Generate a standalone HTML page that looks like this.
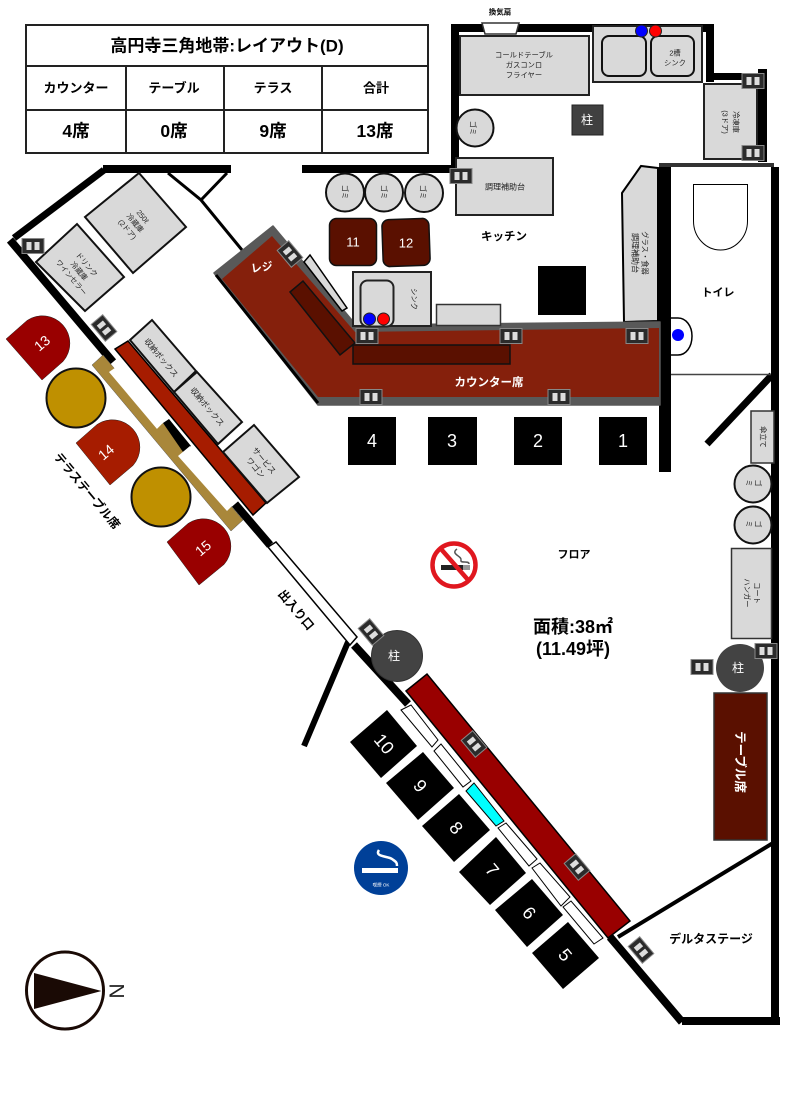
<!DOCTYPE html>
<html lang="ja">
<head>
<meta charset="utf-8">
<style>
html,body{margin:0;padding:0;background:#fff;width:793px;height:1095px;overflow:hidden}
svg{display:block}
text{font-family:"Liberation Sans","Noto Sans CJK JP",sans-serif;text-anchor:middle;dominant-baseline:central}
.b{font-weight:bold}
.s{font-size:8px;fill:#222}
.c{font-size:7.3px;fill:#222}
.g{fill:#d9d9d9;stroke:#222;stroke-width:2}
.w{fill:#fff;stroke:#000;stroke-width:1}
.k{fill:#000}
.n{fill:#fff;font-size:18px}
.t{fill:#d9d9d9;stroke:#111;stroke-width:2}
</style>
</head>
<body>
<svg width="793" height="1095" viewBox="0 0 793 1095" xmlns="http://www.w3.org/2000/svg">
<defs>
<g id="o"><rect x="-11" y="-7.500" width="22" height="15" fill="#2b2b2b" stroke="#888" stroke-width="1"/><rect x="-6.500" y="-4" width="5" height="8" fill="#ddd"/><rect x="1.500" y="-4" width="5" height="8" fill="#ddd"/></g>
</defs>

<!-- table -->
<g fill="none" stroke="#222" stroke-width="2">
<rect x="26" y="25" width="402" height="128"/>
<path d="M26 66H428M26 110H428M126 66V153M224 66V153M322 66V153"/>
</g>
<text class="b" x="227" y="46" font-size="17">高円寺三角地帯:レイアウト(D)</text>
<g class="b" font-size="13">
<text x="76" y="88">カウンター</text><text x="174" y="88">テーブル</text><text x="273" y="88">テラス</text><text x="376" y="88">合計</text>
</g>
<g class="b" font-size="17.500">
<text x="76" y="131">4席</text><text x="174" y="131">0席</text><text x="273" y="131">9席</text><text x="375" y="131">13席</text>
</g>

<!-- structural walls -->
<g fill="#000">
<rect x="103" y="165" width="128" height="8"/>
<rect x="302" y="165" width="156" height="8"/>
<rect x="451" y="24" width="8" height="146"/>
<rect x="451" y="24" width="263" height="8"/>
<rect x="706" y="24" width="8" height="58"/>
<rect x="706" y="73" width="60" height="7"/>
<rect x="758" y="69" width="9" height="93"/>
<rect x="659" y="165" width="12" height="307"/>
<rect x="771" y="167" width="8" height="853"/>
<rect x="682" y="1017" width="98" height="8"/>
</g>
<rect x="659" y="163" width="115" height="4" fill="#333"/>
<g stroke="#000" fill="none">
<path d="M104 170L14 238" stroke-width="7"/>
<path d="M10 240L113 362" stroke-width="8"/>
<path d="M235 504L270 545" stroke-width="8"/>
<path d="M354 645L408 704" stroke-width="8"/>
<path d="M610 937L682 1022" stroke-width="8"/>
<path d="M348 642L304 746" stroke-width="6"/>
<path d="M618 937L773 843" stroke-width="4"/>
<path d="M707 444L772 375" stroke-width="7"/>
<path d="M168 173L201 200L242 250M227 173L201 200" stroke-width="3"/>
</g>

<!-- kitchen -->
<polygon points="482,23 519,23 516,34 485,34" fill="#fff" stroke="#333" stroke-width="1.500"/>
<text class="b" x="500" y="12" font-size="7.500">換気扇</text>
<rect class="g" x="460" y="36" width="129" height="59"/>
<text class="c" x="524" y="55">コールドテーブル</text>
<text class="c" x="524" y="65">ガスコンロ</text>
<text class="c" x="524" y="75">フライヤー</text>
<rect class="g" x="593" y="26" width="109" height="56"/>
<rect x="602" y="36" width="44" height="40" rx="7" fill="#d9d9d9" stroke="#111" stroke-width="2"/>
<rect x="651" y="36" width="43" height="40" rx="7" fill="#d9d9d9" stroke="#111" stroke-width="2"/>
<text class="c" x="675" y="53">2槽</text><text class="c" x="675" y="63">シンク</text>
<circle cx="641.500" cy="31" r="6" fill="#0000ff" stroke="#222"/>
<circle cx="655.500" cy="31" r="6" fill="#ff0000" stroke="#222"/>
<rect class="g" x="704" y="84" width="53" height="75"/>
<g transform="translate(730,122) rotate(90)"><text class="c" y="-6">冷凍庫</text><text class="c" y="5">(3ドア)</text></g>
<circle class="t" cx="475" cy="128" r="18.500"/>
<text class="c" transform="translate(473,128) rotate(90)">ゴミ</text>
<rect x="572" y="105" width="31" height="30" fill="#404040" stroke="#222"/>
<text x="587" y="120" fill="#fff" font-size="12">柱</text>
<rect class="g" x="456" y="158" width="97" height="57"/>
<text class="s" x="505" y="187">調理補助台</text>
<polygon points="622,193 641,166 658,168 658,321 624,322" fill="#d9d9d9" stroke="#000" stroke-width="2"/>
<text class="c" transform="translate(645,253) rotate(90)">グラス・食器</text>
<text class="s" transform="translate(635,253) rotate(90)">調理補助台</text>
<text class="b" x="504" y="237" font-size="11.500">キッチン</text>
<rect x="538" y="266" width="48" height="49" fill="#000"/>

<!-- toilet -->
<path d="M693.500 184.500H747.500V221A27 29 0 0 1 693.500 221Z" fill="#fff" stroke="#000" stroke-width="1"/>
<text class="b" x="718" y="293" font-size="11">トイレ</text>
<path d="M671 318H678C686 318 692 326 692 336C692 347 686 355 678 355H671" fill="#fff" stroke="#000" stroke-width="1.500"/>
<circle cx="678" cy="335" r="6" fill="#0000ff"/>
<path d="M671 374.500H771" stroke="#444" stroke-width="1.500"/>

<!-- trash and tables upper -->
<circle class="t" cx="345" cy="192.500" r="19"/>
<circle class="t" cx="384" cy="192.500" r="19"/>
<circle class="t" cx="424" cy="193" r="19"/>
<g class="c"><text class="c" transform="translate(345,192) rotate(90)">ゴミ</text><text class="c" transform="translate(384,192) rotate(90)">ゴミ</text><text class="c" transform="translate(423,192) rotate(90)">ゴミ</text></g>
<rect x="329.500" y="218.500" width="47" height="47" rx="7" fill="#5a1000" stroke="#111" stroke-width="1.500"/>
<rect x="382.500" y="219" width="47" height="47" rx="7" fill="#5a1000" stroke="#111" stroke-width="1.500" transform="rotate(-2 406 242)"/>
<text x="353" y="242" fill="#fff" font-size="13">11</text>
<text x="406" y="243" fill="#fff" font-size="13">12</text>

<!-- counter -->
<polygon points="214,273 273,226 356,325 660,322 660,405 318,405" fill="#595959" stroke="#595959" stroke-width="1.500" stroke-linejoin="round"/>
<polygon points="222,279 272,236 355,332 659,328 659,397 318,397" fill="#85200c"/>
<path d="M216 275L318 403" stroke="#000" stroke-width="3"/>
<polygon points="304,262 310,255 347,308 342,311" fill="#d9d9d9" stroke="#000" stroke-width="1.500"/>
<polygon points="290,292 303,281 355,343 340,355" fill="#5a1000" stroke="#111" stroke-width="1.500"/>
<rect x="353" y="345" width="157" height="19" fill="#5a1000" stroke="#111" stroke-width="1.500"/>
<text class="b" transform="translate(262,268) rotate(-8)" fill="#fff" font-size="11">レジ</text>
<text class="b" x="489" y="383" fill="#fff" font-size="11.500">カウンター席</text>
<rect class="g" x="353" y="272" width="78" height="54"/>
<rect x="360.500" y="280.500" width="33" height="46" rx="7" fill="#d9d9d9" stroke="#222" stroke-width="2"/>
<text class="c" transform="translate(414,299) rotate(90)">シンク</text>
<circle cx="369.500" cy="319" r="6" fill="#0000ff" stroke="#222"/>
<circle cx="383.500" cy="319" r="6" fill="#ff0000" stroke="#222"/>
<rect x="436.500" y="304.500" width="64" height="21" fill="#d9d9d9" stroke="#333" stroke-width="1.500"/>

<!-- counter seats -->
<rect class="k" x="599" y="417" width="48" height="48"/>
<rect class="k" x="514" y="417" width="48" height="48"/>
<rect class="k" x="428" y="417" width="49" height="48"/>
<rect class="k" x="348" y="417" width="48" height="48"/>
<g class="n"><text x="623" y="441">1</text><text x="538" y="441">2</text><text x="452" y="441">3</text><text x="372" y="441">4</text></g>

<!-- left fridges -->
<polygon class="t" points="139,173 186,227 133,273 85,217" stroke="#000"/>
<g transform="translate(135,223) rotate(50)"><text class="c" y="-10">250ℓ</text><text class="c" y="0">冷蔵庫</text><text class="c" y="10">(2ドア)</text></g>
<polygon class="t" points="36,262 77,224 124,277 85,311" stroke="#000"/>
<g transform="translate(79,271) rotate(50)"><text class="c" y="-10">ドリンク</text><text class="c" y="0">冷蔵庫</text><text class="c" y="10">ワインセラー</text></g>

<!-- terrace -->
<polygon points="92,365 103,355 243,520 231,531" fill="#a9873a" stroke="#555" stroke-width=".5"/>
<polygon points="109,372 122,363 167,419 157,429" fill="#fff"/>
<polygon points="157,429 163,423 184,451 178,456" fill="#a9873a"/>
<polygon points="163,423 169,419 191,446 183,452" fill="#000"/>
<polygon points="178,456 190,446 238,500 227,511" fill="#fff"/>
<polygon points="115,349 128,341 266,503 253,515" fill="#a61c00" stroke="#000" stroke-width="1.500"/>
<polygon class="t" points="130,340 152,320 196,371 174,392" stroke="#000"/>
<polygon class="t" points="174,392 197,372 242,422 218,444" stroke="#000"/>
<polygon class="t" points="223,452 254,425 299,477 267,503" stroke="#000"/>
<text class="s" transform="translate(161,358) rotate(50)">収納ボックス</text>
<text class="s" transform="translate(207,407) rotate(50)">収納ボックス</text>
<g transform="translate(260,464) rotate(50)"><text class="s" y="-5">サービス</text><text class="s" y="6">ワゴン</text></g>

<path d="M6 339L27 320.500A27.500 27.500 0 0 1 63 361.500L42 380Z" fill="#990000" stroke="#222" stroke-width=".5"/>
<path d="M76 443L97 424.500A27.500 27.500 0 0 1 133 465.500L110 485Z" fill="#a61c00" stroke="#222" stroke-width=".5"/>
<path d="M167 542L188 523.500A27.500 27.500 0 0 1 224 564.500L199 585Z" fill="#990000" stroke="#222" stroke-width=".5"/>
<g fill="#fff" font-size="14">
<text transform="translate(42,343) rotate(-40)">13</text>
<text transform="translate(106,452) rotate(-40)">14</text>
<text transform="translate(203,548) rotate(-40)">15</text>
</g>
<circle cx="76" cy="398" r="29.500" fill="#bf9000" stroke="#111" stroke-width="2"/>
<circle cx="161" cy="497" r="29.500" fill="#bf9000" stroke="#111" stroke-width="2"/>
<text class="b" transform="translate(87,491) rotate(50)" font-size="12">テラステーブル席</text>

<!-- door -->
<polygon points="268,547 276,542 357,637 350,645" fill="#fff" stroke="#000" stroke-width="1.500"/>
<text class="b" transform="translate(296,610) rotate(50)" font-size="12">出入り口</text>

<!-- no smoking -->
<g>
<rect x="441" y="565" width="23" height="5" fill="#222"/>
<rect x="463" y="565" width="7" height="5" fill="#999"/>
<path d="M457 549C450 554 462 556 461 560S469 560 469 564" fill="none" stroke="#555" stroke-width="1.500"/>
<circle cx="454" cy="565" r="21.500" fill="none" stroke="#e0171f" stroke-width="4.500"/>
<path d="M441 549L469 581" stroke="#e0171f" stroke-width="4.500"/>
</g>
<text class="b" x="574" y="555" font-size="11">フロア</text>
<text class="b" x="573" y="627" font-size="18">面積:38㎡</text>
<text class="b" x="573" y="649" font-size="18">(11.49坪)</text>

<!-- pillars -->
<circle cx="397" cy="656" r="25.500" fill="#434343" stroke="#333"/>
<text x="394" y="656" fill="#fff" font-size="12">柱</text>
<circle cx="740" cy="668" r="24" fill="#434343"/>
<text x="738" y="668" fill="#fff" font-size="12">柱</text>

<!-- right side -->
<rect x="751" y="411" width="23" height="52" fill="#d9d9d9" stroke="#333" stroke-width="1.500"/>
<text class="c" transform="translate(763,437) rotate(90)">傘立て</text>
<circle class="t" cx="753" cy="484" r="18.500"/>
<circle class="t" cx="753" cy="525" r="18.500"/>
<text class="c" transform="translate(758,483) rotate(90)">ゴ</text><text class="c" transform="translate(749,483) rotate(90)">ミ</text>
<text class="c" transform="translate(758,524) rotate(90)">ゴ</text><text class="c" transform="translate(749,524) rotate(90)">ミ</text>
<rect x="731.500" y="548.500" width="40" height="90" fill="#d9d9d9" stroke="#333" stroke-width="1.500"/>
<g transform="translate(752,593) rotate(90)"><text class="c" y="-5">コート</text><text class="c" y="5">ハンガー</text></g>
<rect x="714" y="693" width="53" height="147" fill="#5a1000" stroke="#333" stroke-width="1.500"/>
<text class="b" transform="translate(740,762) rotate(90)" fill="#fff" font-size="12.500">テーブル席</text>

<!-- lower long bench -->
<polygon points="406,691 427,674 630,921 608,938" fill="#990000" stroke="#000" stroke-width="1.500"/>
<polygon class="w" points="401,710 411,705 438,740 432,747"/>
<polygon class="w" points="434,751 441,744 471,781 463,787"/>
<polygon class="w" points="466,791 474,783 504,821 496,826" style="fill:#00ffff"/>
<polygon class="w" points="498,828 506,823 537,859 529,866"/>
<polygon class="w" points="532,868 540,863 570,897 561,906"/>
<polygon class="w" points="563,907 571,901 603,938 594,944"/>

<!-- lower seats -->
<polygon class="k" points="350,742 387,710 417,746 381,778"/>
<polygon class="k" points="386,783 423,752 454,788 418,820"/>
<polygon class="k" points="422,826 459,794 490,830 454,862"/>
<polygon class="k" points="459,872 496,837 526,873 490,905"/>
<polygon class="k" points="495,910 532,879 563,915 527,947"/>
<polygon class="k" points="532,953 568,922 599,958 563,989"/>
<g class="n">
<text transform="translate(384,744) rotate(50)">10</text>
<text transform="translate(420,786) rotate(50)">9</text>
<text transform="translate(456,828) rotate(50)">8</text>
<text transform="translate(492,870) rotate(50)">7</text>
<text transform="translate(529,913) rotate(50)">6</text>
<text transform="translate(565,955) rotate(50)">5</text>
</g>

<!-- smoking OK -->
<circle cx="381" cy="868" r="27" fill="#004098"/>
<rect x="362" y="868" width="36" height="5" fill="#fff"/>
<path d="M379 850C374 857 388 856 392 859S397 862 397 866" fill="none" stroke="#fff" stroke-width="2.500"/>
<text x="381" y="885" fill="#fff" font-size="4.500">喫煙 OK</text>

<text class="b" x="711" y="939" font-size="12">デルタステージ</text>

<!-- compass -->
<circle cx="65" cy="990.500" r="38.500" fill="#fff" stroke="#1a0a05" stroke-width="3"/>
<polygon points="34,973 101.500,991 34,1009" fill="#1a0a05"/>
<text transform="translate(116,991) rotate(90)" font-size="21" fill="#222">N</text>

<!-- outlets -->
<use href="#o" transform="translate(33,246)"/>
<use href="#o" transform="translate(104,328) rotate(50)"/>
<use href="#o" transform="translate(290,254) rotate(50)"/>
<use href="#o" transform="translate(461,176)"/>
<use href="#o" transform="translate(753,81)"/>
<use href="#o" transform="translate(753,153)"/>
<use href="#o" transform="translate(367,336)"/>
<use href="#o" transform="translate(511,336)"/>
<use href="#o" transform="translate(637,336)"/>
<use href="#o" transform="translate(371,397)"/>
<use href="#o" transform="translate(559,397)"/>
<use href="#o" transform="translate(371,632) rotate(50)"/>
<use href="#o" transform="translate(474,744) rotate(50)"/>
<use href="#o" transform="translate(577,867) rotate(50)"/>
<use href="#o" transform="translate(641,950) rotate(50)"/>
<use href="#o" transform="translate(702,667)"/>
<use href="#o" transform="translate(766,651)"/>
</svg>
</body>
</html>
